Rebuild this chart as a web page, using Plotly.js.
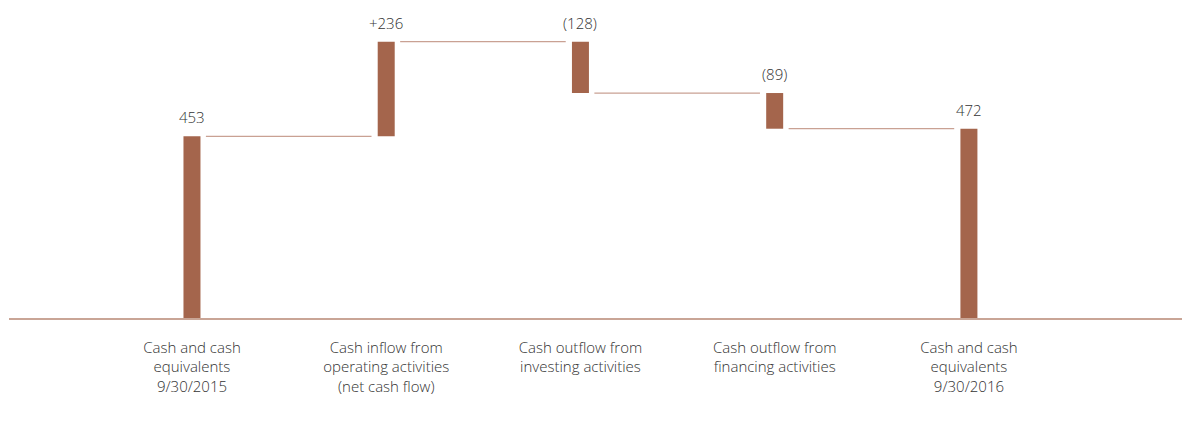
<!DOCTYPE html>
<html>
<head>
<meta charset="utf-8">
<script src="https://cdn.plot.ly/plotly-3.0.1.min.js"></script>
<style>html,body{margin:0;padding:0;background:#fff;}#chart{width:1182px;height:442px;}</style>
</head>
<body>
<div id="chart"></div>
<script>
// Data
const categories = [
  "Cash and cash<br>equivalents<br>9/30/2015",
  "Cash inflow from<br>operating activities<br>(net cash flow)",
  "Cash outflow from<br>investing activities",
  "Cash outflow from<br>financing activities",
  "Cash and cash<br>equivalents<br>9/30/2016"
];
const startValue = 453;
const changes = [236, -128, -89];
const endValue = 472;
const valueLabels = ["453", "+236", "(128)", "(89)", "472"];

// Build waterfall geometry from data
const xs = categories.map((_, i) => i);
const bases = [0], heights = [startValue], tops = [startValue], levels = [startValue];
let running = startValue;
changes.forEach(c => {
  const next = running + c;
  bases.push(Math.min(running, next));
  heights.push(Math.abs(c));
  tops.push(Math.max(running, next));
  running = next;
  levels.push(running);
});
bases.push(0); heights.push(endValue); tops.push(endValue);

const barW = 0.0875;
const gapL = 0.028, gapR = 0.032;
const cx = [], cy = [];
for (let i = 0; i < xs.length - 1; i++) {
  cx.push(xs[i] + barW / 2 + gapL, xs[i + 1] - barW / 2 - gapR, null);
  cy.push(levels[i], levels[i], null);
}

const font = {family: "Open Sans, sans-serif", size: 15, color: "#333333", weight: 300};

const traces = [
  {
    type: "scatter", mode: "lines", x: cx, y: cy,
    line: {color: "#c9a193", width: 1.3}, hoverinfo: "skip", showlegend: false
  },
  {
    type: "bar", x: xs, y: heights, base: bases, width: barW,
    marker: {color: "#a4654c", line: {width: 0}}, hoverinfo: "skip", showlegend: false
  }
];

const annotations = xs.map((x, i) => ({
  x: x, y: tops[i], xref: "x", yref: "y", text: valueLabels[i],
  showarrow: false, yanchor: "bottom", yshift: 7, font: font
}));

const layout = {
  width: 1182, height: 442,
  margin: {l: 9, r: 0, t: 0, b: 124},
  paper_bgcolor: "#fff", plot_bgcolor: "#fff",
  showlegend: false,
  xaxis: {
    range: [-0.942, 5.097], tickvals: xs, ticktext: categories,
    showgrid: false, zeroline: false, showline: true, linecolor: "#c9a596", linewidth: 1.5,
    ticks: "outside", ticklen: 15, tickcolor: "rgba(0,0,0,0)",
    tickfont: font, fixedrange: true
  },
  yaxis: {
    range: [0, 793], showgrid: false, zeroline: false, showline: false,
    showticklabels: false, ticks: "", fixedrange: true
  },
  annotations: annotations
};

Plotly.newPlot("chart", traces, layout, {displayModeBar: false, staticPlot: true});
</script>
</body>
</html>
